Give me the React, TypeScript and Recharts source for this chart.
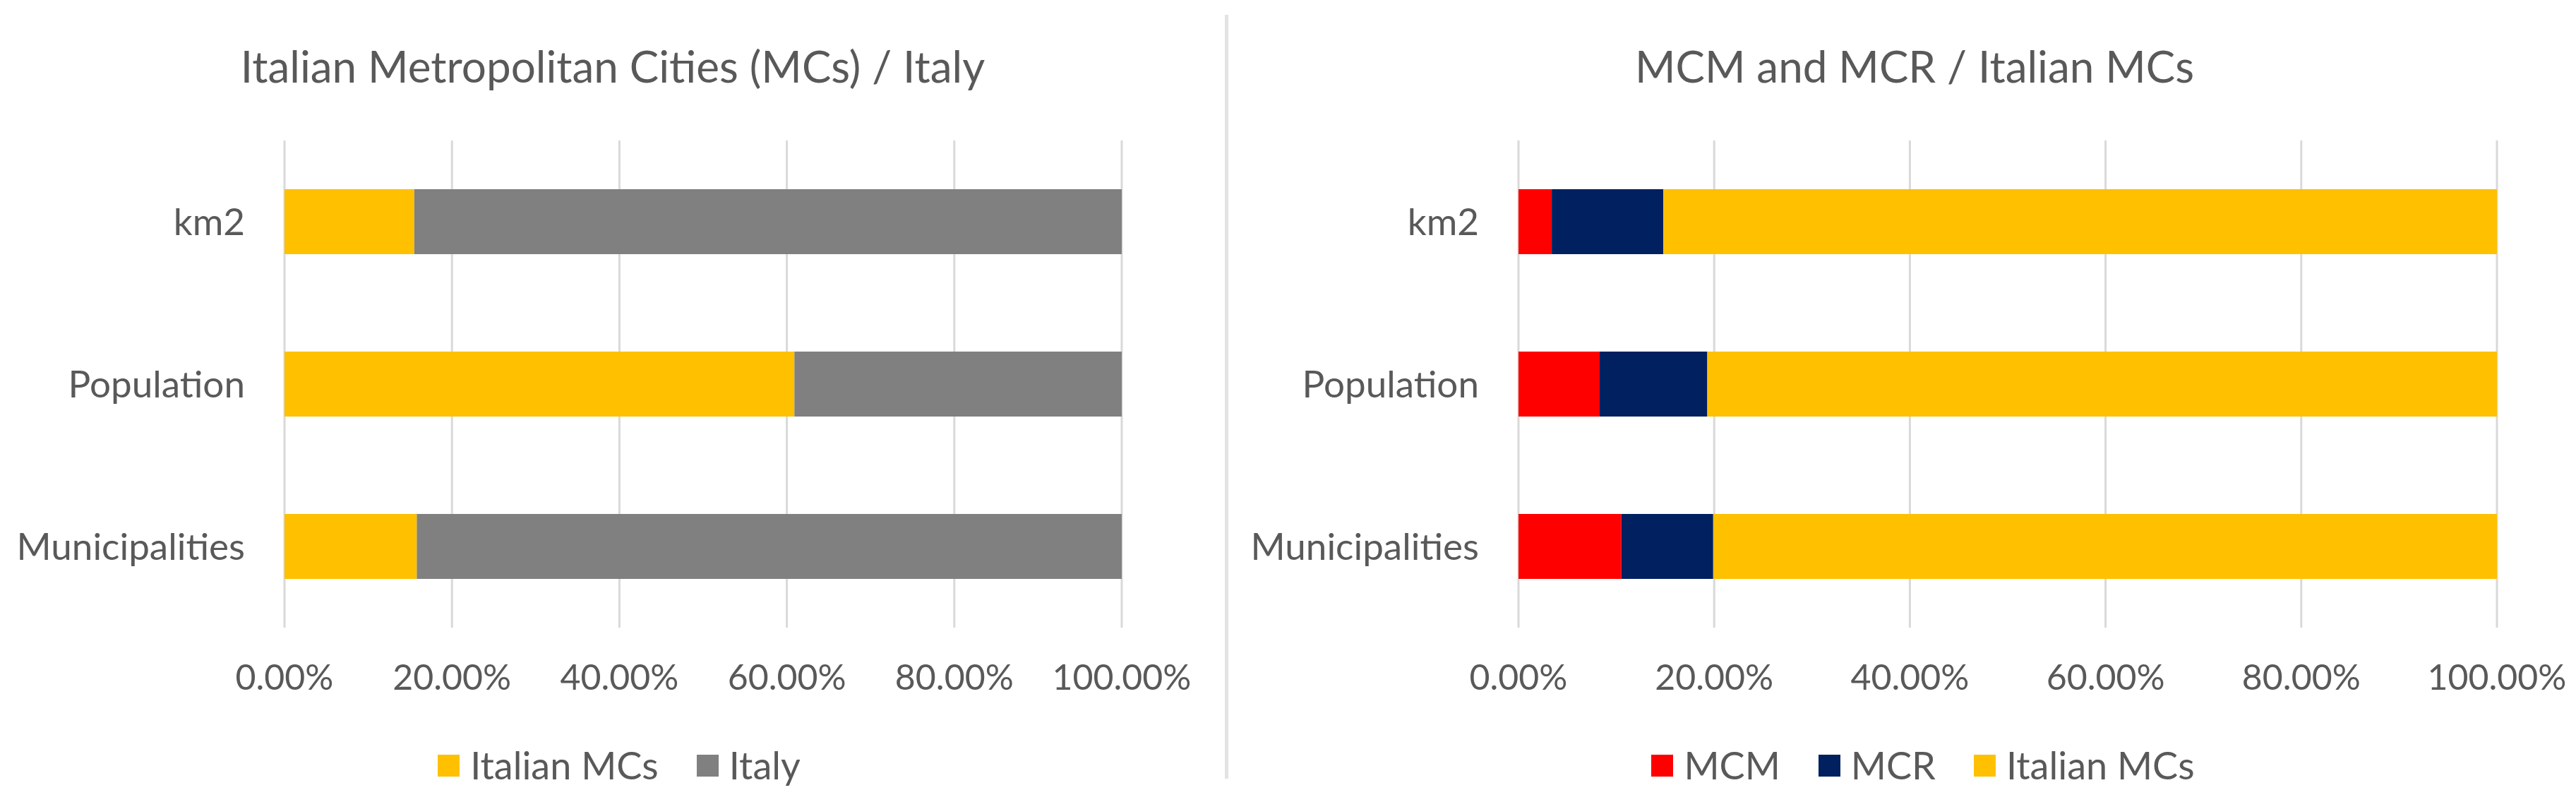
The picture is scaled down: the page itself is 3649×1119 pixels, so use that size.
import React from 'react'
import { BarChart, Bar, XAxis, YAxis, CartesianGrid, Legend } from 'recharts'

const categories = ['km2', 'Population', 'Municipalities']

// left chart: share of Italy covered by the metropolitan cities
const italianMCsShare = [15.5, 60.9, 15.8]
const italyRest = [84.5, 39.1, 84.2]

// right chart: MCM and MCR inside the Italian MCs
const mcmShare = [3.4, 8.3, 10.5]
const mcrShare = [11.4, 11.0, 9.4]
const otherMCsShare = [85.2, 80.7, 80.1]

const percentTicks = [0, 20, 40, 60, 80, 100]

const leftSeries = ['Italian MCs', 'Italy']
const rightSeries = ['MCM', 'MCR', 'Italian MCs']

const FONT = 'Lato, "Open Sans", sans-serif'
const TEXT = '#595959'
const GRID = '#d9d9d9'

const leftData = categories.map((name, i) => ({
  name,
  mcs: italianMCsShare[i],
  italy: italyRest[i],
}))

const rightData = categories.map((name, i) => ({
  name,
  mcm: mcmShare[i],
  mcr: mcrShare[i],
  mcs: otherMCsShare[i],
}))

const fmt = (v: number) => `${v.toFixed(2)}%`

function SquareLegend({ payload, center, order }: { payload?: any[]; center: number; order: string[] }) {
  // recharts sorts legend items by name, put them back in series order
  const items = [...(payload || [])].sort((a, b) => order.indexOf(a.value) - order.indexOf(b.value))
  return (
    <div style={{ width: center * 2, display: 'flex', justifyContent: 'center', alignItems: 'center' }}>
      {items.map((p, i) => (
        <div key={i} style={{ display: 'flex', alignItems: 'center', marginLeft: i ? 54 : 0 }}>
          <div style={{ width: 31, height: 31, background: p.color, marginRight: 15 }} />
          <span style={{ fontFamily: FONT, fontSize: 54, color: TEXT, lineHeight: 1 }}>{p.value}</span>
        </div>
      ))}
    </div>
  )
}

function Title({ text, center }: { text: string; center: number }) {
  return (
    <div
      style={{
        position: 'absolute',
        top: 62,
        left: 0,
        width: center * 2,
        textAlign: 'center',
        fontFamily: FONT,
        fontSize: 62,
        lineHeight: 1,
        color: TEXT,
        whiteSpace: 'nowrap',
      }}
    >
      {text}
    </div>
  )
}

const axisTick = { fill: TEXT, fontFamily: FONT, fontSize: 50 }
const catTick = { fill: TEXT, fontFamily: FONT, fontSize: 53 }

export default function App() {
  return (
    <div style={{ position: 'relative', width: 3649, height: 1119, background: '#fff', overflow: 'hidden' }}>
      <style>{'body{margin:0}'}</style>

      <div style={{ position: 'absolute', left: 0, top: 0, width: 1737, height: 1119 }}>
        <Title text="Italian Metropolitan Cities (MCs) / Italy" center={868} />
        <BarChart
          width={1737}
          height={1119}
          data={leftData}
          layout="vertical"
          margin={{ top: 199, right: 148, bottom: 170, left: 0 }}
          barCategoryGap="30%"
        >
          <CartesianGrid horizontal={false} stroke={GRID} strokeWidth={3} />
          <XAxis
            type="number"
            domain={[0, 100]}
            ticks={percentTicks}
            tickFormatter={fmt}
            axisLine={false}
            tickLine={false}
            tickSize={0}
            tickMargin={52}
            interval={0}
            height={60}
            tick={axisTick}
          />
          <YAxis
            type="category"
            dataKey="name"
            width={403}
            axisLine={false}
            tickLine={false}
            tickSize={0}
            tickMargin={56}
            tick={catTick}
          />
          <Legend
            verticalAlign="middle"
            align="center"
            wrapperStyle={{ top: 1057, left: 0, width: 1754 }}
            content={(props: any) => <SquareLegend payload={props.payload} center={877} order={leftSeries} />}
          />
          <Bar dataKey="mcs" name={leftSeries[0]} stackId="a" fill="#FFC000" isAnimationActive={false} />
          <Bar dataKey="italy" name={leftSeries[1]} stackId="a" fill="#808080" isAnimationActive={false} />
        </BarChart>
      </div>

      <div style={{ position: 'absolute', left: 1735, top: 21, width: 5, height: 1082, background: '#e3e3e3' }} />

      <div style={{ position: 'absolute', left: 1740, top: 0, width: 1909, height: 1119 }}>
        <Title text="MCM and MCR / Italian MCs" center={972} />
        <BarChart
          width={1909}
          height={1119}
          data={rightData}
          layout="vertical"
          margin={{ top: 199, right: 112, bottom: 170, left: 0 }}
          barCategoryGap="30%"
        >
          <CartesianGrid horizontal={false} stroke={GRID} strokeWidth={3} />
          <XAxis
            type="number"
            domain={[0, 100]}
            ticks={percentTicks}
            tickFormatter={fmt}
            axisLine={false}
            tickLine={false}
            tickSize={0}
            tickMargin={52}
            interval={0}
            height={60}
            tick={axisTick}
          />
          <YAxis
            type="category"
            dataKey="name"
            width={411}
            axisLine={false}
            tickLine={false}
            tickSize={0}
            tickMargin={56}
            tick={catTick}
          />
          <Legend
            verticalAlign="middle"
            align="center"
            wrapperStyle={{ top: 1057, left: 0, width: 1968 }}
            content={(props: any) => <SquareLegend payload={props.payload} center={984} order={rightSeries} />}
          />
          <Bar dataKey="mcm" name={rightSeries[0]} stackId="b" fill="#FF0000" isAnimationActive={false} />
          <Bar dataKey="mcr" name={rightSeries[1]} stackId="b" fill="#002060" isAnimationActive={false} />
          <Bar dataKey="mcs" name={rightSeries[2]} stackId="b" fill="#FFC000" isAnimationActive={false} />
        </BarChart>
      </div>
    </div>
  )
}
